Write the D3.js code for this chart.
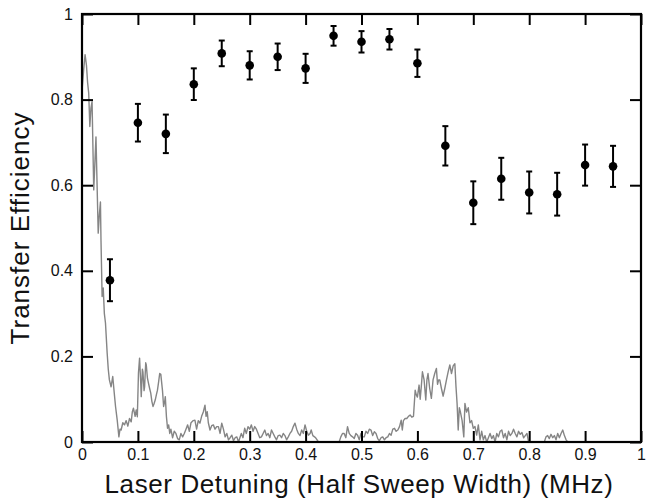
<!DOCTYPE html>
<html><head><meta charset="utf-8">
<script src="https://cdn.jsdelivr.net/npm/d3@7"></script>
<style>body{margin:0;background:#fff}svg{display:block}text{font-family:"Liberation Sans",Arial,sans-serif}</style>
</head><body>
<svg id="chart" width="659" height="500"></svg>
<script>
// Transfer efficiency data points
const detuning = [0.05,0.10,0.15,0.20,0.25,0.30,0.35,0.40,0.45,0.50,0.55,0.60,0.65,0.70,0.75,0.80,0.85,0.90,0.95];
const efficiency = [0.378,0.746,0.720,0.836,0.908,0.880,0.900,0.873,0.949,0.935,0.941,0.885,0.692,0.559,0.615,0.583,0.579,0.647,0.644];
const errors = [0.049,0.044,0.045,0.037,0.030,0.033,0.031,0.034,0.023,0.025,0.024,0.032,0.046,0.050,0.049,0.049,0.050,0.048,0.048];
// Spectrum trace (grey)
const specX = [0,0.003,0.0055,0.008,0.010,0.012,0.014,0.016,0.018,0.021,0.023,0.025,0.027,0.029,0.031,0.033,0.034,0.036,0.038,0.040,0.042,0.045,0.047,0.049,0.052,0.055,0.058,0.060,0.063,0.066,0.068,0.070,0.073,0.076,0.079,0.082,0.085,0.088,0.090,0.092,0.095,0.097,0.099,0.101,0.103,0.105,0.106,0.108,0.109,0.111,0.112,0.114,0.115,0.117,0.119,0.121,0.123,0.125,0.127,0.129,0.131,0.133,0.135,0.137,0.139,0.141,0.142,0.144,0.146,0.148,0.149,0.151,0.153,0.155,0.157,0.159,0.162,0.165,0.168,0.171,0.174,0.177,0.180,0.183,0.186,0.189,0.192,0.195,0.199,0.202,0.205,0.208,0.211,0.214,0.217,0.220,0.222,0.224,0.226,0.229,0.232,0.235,0.238,0.241,0.244,0.247,0.250,0.253,0.256,0.259,0.262,0.265,0.268,0.271,0.274,0.277,0.280,0.282,0.285,0.288,0.291,0.294,0.297,0.300,0.303,0.306,0.309,0.312,0.315,0.318,0.321,0.324,0.327,0.330,0.333,0.336,0.339,0.342,0.345,0.348,0.351,0.354,0.357,0.360,0.363,0.366,0.369,0.372,0.375,0.378,0.381,0.384,0.387,0.390,0.393,0.396,0.399,0.402,0.405,0.408,0.410,0.413,0.416,0.419,0.423,0.460,0.463,0.466,0.469,0.472,0.475,0.478,0.481,0.484,0.487,0.490,0.493,0.496,0.499,0.502,0.505,0.508,0.511,0.514,0.517,0.520,0.523,0.526,0.529,0.532,0.535,0.538,0.541,0.544,0.547,0.550,0.553,0.556,0.559,0.562,0.565,0.568,0.571,0.573,0.575,0.578,0.581,0.584,0.587,0.590,0.593,0.596,0.598,0.600,0.603,0.605,0.607,0.609,0.612,0.615,0.617,0.619,0.622,0.625,0.628,0.631,0.634,0.636,0.638,0.640,0.643,0.646,0.649,0.652,0.655,0.658,0.661,0.664,0.667,0.669,0.671,0.673,0.675,0.677,0.680,0.683,0.685,0.688,0.691,0.694,0.697,0.700,0.703,0.706,0.709,0.712,0.715,0.718,0.721,0.724,0.727,0.730,0.733,0.736,0.739,0.742,0.745,0.748,0.751,0.754,0.757,0.760,0.763,0.766,0.769,0.772,0.775,0.778,0.781,0.784,0.787,0.790,0.793,0.796,0.799,0.827,0.830,0.833,0.836,0.839,0.842,0.845,0.848,0.851,0.854,0.857,0.860,0.863,0.866,0.869];
const specY = [0.82,0.87,0.905,0.88,0.84,0.815,0.737,0.78,0.795,0.589,0.65,0.713,0.60,0.488,0.53,0.561,0.47,0.34,0.36,0.30,0.278,0.208,0.17,0.145,0.129,0.153,0.11,0.083,0.051,0.012,0.03,0.028,0.045,0.04,0.05,0.037,0.055,0.047,0.07,0.079,0.06,0.075,0.059,0.161,0.196,0.14,0.106,0.17,0.164,0.12,0.129,0.185,0.18,0.15,0.137,0.125,0.114,0.095,0.083,0.09,0.098,0.11,0.121,0.14,0.16,0.158,0.145,0.12,0.083,0.095,0.106,0.06,0.032,0.04,0.02,0.03,0.01,0.025,0.02,0.008,0.005,0.02,0.012,0.02,0.03,0.04,0.025,0.045,0.05,0.051,0.03,0.05,0.044,0.06,0.07,0.086,0.06,0.071,0.045,0.028,0.038,0.04,0.03,0.036,0.036,0.02,0.044,0.03,0.012,0.02,0.005,0.01,0.016,0.003,0.01,0.012,0,0.008,0.02,0.01,0.032,0.02,0.036,0.03,0.04,0.025,0.036,0.03,0.02,0.01,0.012,0.02,0.028,0.015,0.02,0.01,0.028,0.02,0.012,0.005,0.015,0.016,0.01,0.02,0.015,0.005,0.012,0.02,0.025,0.036,0.044,0.03,0.02,0.015,0.028,0.02,0.04,0.025,0.016,0.02,0.028,0.015,0.012,0.008,0,0,0.012,0.02,0.02,0.01,0.036,0.02,0.015,0.012,0.008,0.02,0.016,0.005,0.02,0.012,0.012,0.025,0.02,0.03,0.028,0.015,0.024,0.02,0.008,0.003,0.01,0.012,0.005,0.01,0.012,0.02,0.016,0.03,0.032,0.025,0.028,0.036,0.051,0.028,0.05,0.055,0.055,0.06,0.063,0.058,0.06,0.121,0.11,0.105,0.133,0.10,0.13,0.164,0.145,0.098,0.145,0.16,0.125,0.102,0.145,0.16,0.172,0.135,0.145,0.145,0.125,0.107,0.125,0.145,0.164,0.18,0.16,0.178,0.183,0.13,0.09,0.028,0.08,0.07,0.05,0.012,0.09,0.07,0.08,0.045,0.05,0.032,0.036,0.016,0.04,0.005,0.025,0.005,0.015,0,0.01,0.02,0.008,0.015,0,0.02,0.012,0.025,0.028,0.01,0.02,0.005,0.025,0.015,0.02,0.03,0.02,0.012,0.025,0.018,0.022,0.01,0.015,0.02,0,0,0.012,0.015,0.008,0.018,0.01,0.015,0.005,0.02,0.01,0.02,0.028,0.015,0.005,0];
const xTicks = [0,0.1,0.2,0.3,0.4,0.5,0.6,0.7,0.8,0.9,1];
const yTicks = [0,0.2,0.4,0.6,0.8,1];
const xTitle = "Laser Detuning (Half Sweep Width) (MHz)";
const yTitle = "Transfer Efficiency";

const svg = d3.select("#chart");
const L = 82, R = 641, T = 14, B = 442;
const x = d3.scaleLinear().domain([0,1]).range([L,R]);
const y = d3.scaleLinear().domain([0,1]).range([B,T]);
const fmt = d => d3.format("~g")(d);

// spectrum
const spec = specX.map((v,i)=>[v,specY[i]]);
svg.append("path").datum(spec)
  .attr("fill","none").attr("stroke","#858585").attr("stroke-width",1.4).attr("stroke-linejoin","round")
  .attr("d", d3.line().x(d=>x(d[0])).y(d=>y(d[1])));

// axes
const tickLen = 11;
const ax = [
  d3.axisBottom(x).tickValues(xTicks).tickFormat(fmt).tickSizeInner(-tickLen).tickSizeOuter(0).tickPadding(7),
  d3.axisTop(x).tickValues(xTicks).tickFormat("").tickSizeInner(-tickLen).tickSizeOuter(0),
  d3.axisLeft(y).tickValues(yTicks).tickFormat(fmt).tickSizeInner(-tickLen).tickSizeOuter(0).tickPadding(9),
  d3.axisRight(y).tickValues(yTicks).tickFormat("").tickSizeInner(-tickLen).tickSizeOuter(0)
];
const pos = [`translate(0,${B})`,`translate(0,${T})`,`translate(${L},0)`,`translate(${R},0)`];
ax.forEach((a,i)=>{
  const g = svg.append("g").attr("transform",pos[i]).call(a);
  g.select(".domain").remove();
  g.selectAll(".tick line").attr("stroke","#000").attr("stroke-width",2);
  g.selectAll("text").attr("fill","#111").style("font-size","16px").style("font-family","Liberation Sans, Arial, sans-serif");
});
svg.append("rect").attr("x",L).attr("y",T).attr("width",R-L).attr("height",B-T)
  .attr("fill","none").attr("stroke","#000").attr("stroke-width",2.2);

// error bars + points
const pts = detuning.map((d,i)=>({x:d,y:efficiency[i],e:errors[i]}));
const eg = svg.append("g").attr("stroke","#000").attr("stroke-width",2);
eg.selectAll(".v").data(pts).join("line")
  .attr("x1",d=>x(d.x)).attr("x2",d=>x(d.x)).attr("y1",d=>y(d.y-d.e)).attr("y2",d=>y(d.y+d.e));
eg.selectAll(".t").data(pts).join("line")
  .attr("x1",d=>x(d.x)-3).attr("x2",d=>x(d.x)+3).attr("y1",d=>y(d.y+d.e)).attr("y2",d=>y(d.y+d.e));
eg.selectAll(".b").data(pts).join("line")
  .attr("x1",d=>x(d.x)-3).attr("x2",d=>x(d.x)+3).attr("y1",d=>y(d.y-d.e)).attr("y2",d=>y(d.y-d.e));
svg.append("g").selectAll("circle").data(pts).join("circle")
  .attr("cx",d=>x(d.x)).attr("cy",d=>y(d.y)).attr("r",4.3).attr("fill","#000");

// titles
svg.append("text").attr("x",359).attr("y",493).attr("text-anchor","middle")
  .style("font-size","26px").style("letter-spacing","0.6px").attr("fill","#111").text(xTitle);
svg.append("text").attr("transform",`translate(29,${(T+B)/2}) rotate(-90)`).attr("text-anchor","middle")
  .style("font-size","26px").style("letter-spacing","1px").attr("fill","#111").text(yTitle);
</script>
</body></html>
